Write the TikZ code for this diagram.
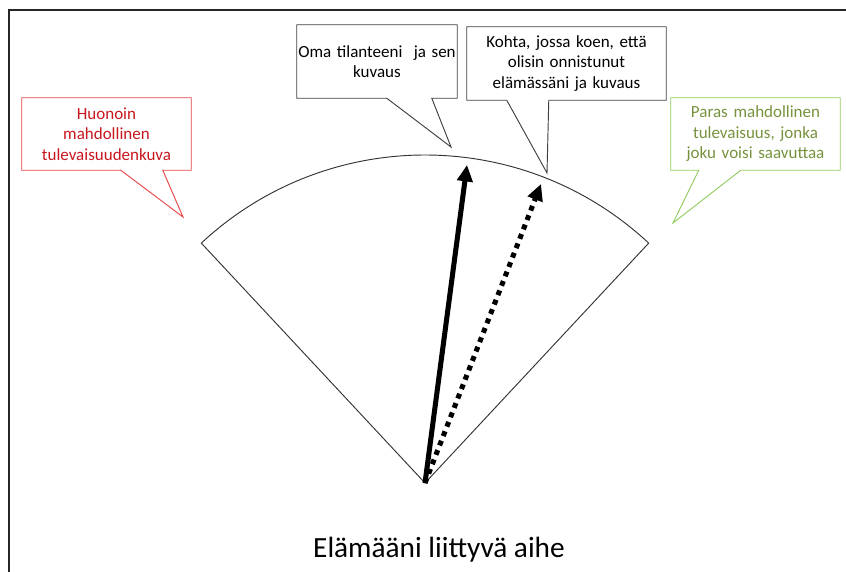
\documentclass[tikz,border=0pt]{standalone}
\usepackage{fontspec}
\setmainfont{Carlito}
\usepackage{xcolor}
\usepackage{tikz}
\usetikzlibrary{arrows.meta}
\usetikzlibrary{calc}
\definecolor{worsttext}{RGB}{200,22,30}
\definecolor{worstline}{RGB}{228,70,70}
\definecolor{besttext}{RGB}{118,146,60}
\definecolor{bestline}{RGB}{146,204,96}
\definecolor{frametone}{RGB}{38,38,38}
\tikzset{
callout/.style = {rectangle, align = center, inner sep = 0pt, minimum height = 2.19cm, font = \fontsize{14.5}{17.5}\selectfont},
callout line/.style = {draw = #1, line width = 0.8pt, line join = miter},
sector line/.style = {draw = black!80, line width = 0.8pt},
life arrow/.style = {line width = 4.3pt, -{Triangle[length = 14pt, width = 13pt]}},
}

\begin{document}
\begin{tikzpicture}[x = 0.03cm, y = -0.03cm]
    \useasboundingbox (0, 0) rectangle (846, 572);
    \draw[frametone, line width = 2.5pt] (9, 572) -- (9, 10) -- (846, 10);
    % the range of possible futures
    \coordinate (apex) at (425, 483);
    \draw[sector line] (apex) -- ++(-133:328) arc[start angle = -133, end angle = -47, radius = 328] -- cycle;
    \coordinate (now) at (467, 165);
    \coordinate (success) at (541, 184);
    \draw[life arrow] (apex) -- (now);
    \draw[life arrow, dash pattern = on 4.3pt off 4.3pt] (apex) -- (success);
    % callouts
    \node[callout, text width = 5.07cm, minimum height = 2.16cm, text = worsttext] (worst) at (106.5, 134) {Huonoin\\ mahdollinen\\ tulevaisuudenkuva};
    \node[callout, text width = 4.8cm] (own) at (377, 61.5) {Oma tilanteeni\ \ ja sen\\ kuvaus};
    \node[callout, text width = 5.97cm] (point) at (566.5, 63.5) {Kohta, jossa koen, että\\ olisin onnistunut\\ elämässäni ja kuvaus};
    \node[callout, text width = 5.07cm, minimum height = 2.16cm, text = besttext] (best) at (755.5, 134) {Paras mahdollinen\\ tulevaisuus, jonka\\ joku voisi saavuttaa};
    \coordinate (worst tip) at (183, 217);
    \coordinate (own tip) at (451, 147);
    \coordinate (point tip) at (547, 173);
    \coordinate (best tip) at (673, 223);
    \draw[callout line = worstline] (worst.south west) -- (worst.north west) -- (worst.north east) -- (worst.south east) -- ($(worst.south west) + (141, 0)$) -- (worst tip) -- ($(worst.south west) + (99, 0)$) -- cycle;
    \draw[callout line = black!75] (own.south west) -- (own.north west) -- (own.north east) -- (own.south east) -- ($(own.south west) + (135, 0)$) -- (own tip) -- ($(own.south west) + (90, 0)$) -- cycle;
    \draw[callout line = black!75] (point.south west) -- (point.north west) -- (point.north east) -- (point.south east) -- ($(point.south west) + (82, 0)$) -- (point tip) -- ($(point.south west) + (40, 0)$) -- cycle;
    \draw[callout line = bestline] (best.south west) -- (best.north west) -- (best.north east) -- (best.south east) -- ($(best.south west) + (70, 0)$) -- (best tip) -- ($(best.south west) + (28, 0)$) -- cycle;
    \node[font = \fontsize{25}{30}\selectfont] (topic) at (439, 550) {Elämääni liittyvä aihe};
\end{tikzpicture}
\end{document}
